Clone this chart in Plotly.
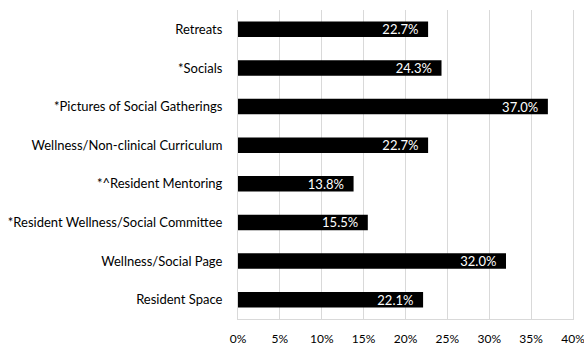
import plotly.graph_objects as go

categories = [
    "Retreats",
    "*Socials",
    "*Pictures of Social Gatherings",
    "Wellness/Non-clinical Curriculum",
    "*^Resident Mentoring",
    "*Resident Wellness/Social Committee",
    "Wellness/Social Page",
    "Resident Space",
]
values = [22.7, 24.3, 37.0, 22.7, 13.8, 15.5, 32.0, 22.1]
tick_vals = [0, 5, 10, 15, 20, 25, 30, 35, 40]
tick_text = ["0%", "5%", "10%", "15%", "20%", "25%", "30%", "35%", "40%"]

font_family = "Lato, 'Open Sans', sans-serif"
font_size = 13

fig = go.Figure(
    go.Bar(
        x=values,
        y=categories,
        orientation="h",
        marker=dict(color="#000000", line=dict(color="#000000", width=0)),
        width=0.4,
        # non-breaking spaces keep the value label clear of the bar end
        text=[f"{v:.1f}%\u00a0\u00a0" for v in values],
        textposition="inside",
        insidetextanchor="end",
        textfont=dict(color="white", size=font_size, family=font_family),
        cliponaxis=False,
    )
)

fig.update_layout(
    width=584,
    height=348,
    margin=dict(l=238, r=11, t=10, b=29, autoexpand=False),
    paper_bgcolor="white",
    plot_bgcolor="white",
    showlegend=False,
    uniformtext=dict(minsize=font_size, mode="show"),
    font=dict(family=font_family, size=font_size, color="#000000"),
    xaxis=dict(
        range=[0, 40],
        tickvals=tick_vals,
        ticktext=tick_text,
        showgrid=True,
        gridcolor="#d9d9d9",
        gridwidth=1,
        zeroline=False,
        showline=True,
        linecolor="#d9d9d9",
        ticks="",
        automargin=False,
        ticklabelstandoff=9,
        ticklabeloverflow="allow",
        tickfont=dict(size=12),
    ),
    yaxis=dict(
        autorange="reversed",
        showline=True,
        mirror=True,
        linecolor="#d9d9d9",
        showgrid=False,
        ticks="",
        automargin=False,
        ticklabelstandoff=12,
        tickfont=dict(size=font_size),
    ),
)

fig.write_html("out.html")
